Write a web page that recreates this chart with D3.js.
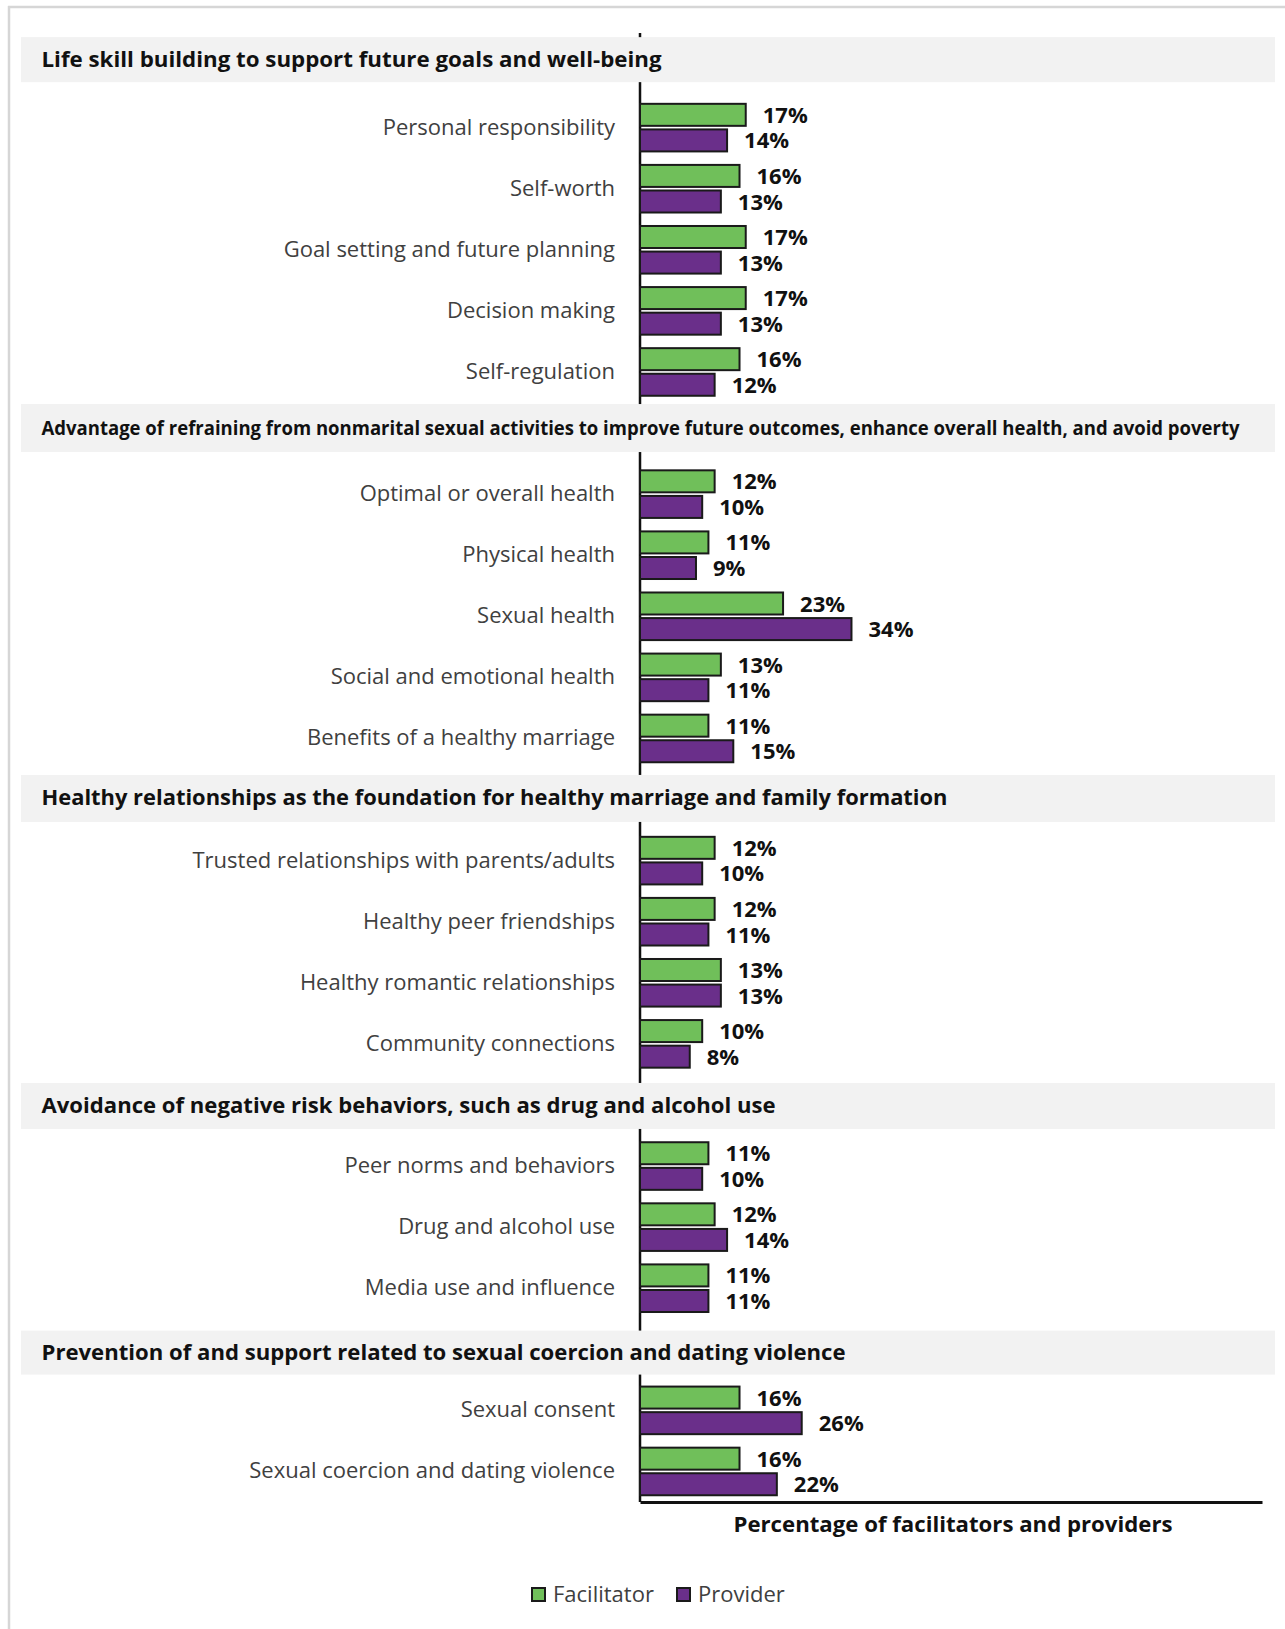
<!DOCTYPE html>
<html><head><meta charset="utf-8">
<script src="https://cdn.jsdelivr.net/npm/d3@7"></script>
<style>body{margin:0;background:#fff}svg{display:block}</style>
</head><body>
<svg id="c" width="1285" height="1629"></svg>
<script>
// ---------- DATA ----------
const sections = [
  "Life skill building to support future goals and well-being",
  "Advantage of refraining from nonmarital sexual activities to improve future outcomes, enhance overall health, and avoid poverty",
  "Healthy relationships as the foundation for healthy marriage and family formation",
  "Avoidance of negative risk behaviors, such as drug and alcohol use",
  "Prevention of and support related to sexual coercion and dating violence"
];
const categories = [
  "Personal responsibility","Self-worth","Goal setting and future planning","Decision making","Self-regulation",
  "Optimal or overall health","Physical health","Sexual health","Social and emotional health","Benefits of a healthy marriage",
  "Trusted relationships with parents/adults","Healthy peer friendships","Healthy romantic relationships","Community connections",
  "Peer norms and behaviors","Drug and alcohol use","Media use and influence",
  "Sexual consent","Sexual coercion and dating violence"
];
const categorySection = [0,0,0,0,0, 1,1,1,1,1, 2,2,2,2, 3,3,3, 4,4];
const facilitator = [17,16,17,17,16, 12,11,23,13,11, 12,12,13,10, 11,12,11, 16,16];
const provider    = [14,13,13,13,12, 10,9,34,11,15, 10,11,13,8, 10,14,11, 26,22];
const seriesNames = ["Facilitator","Provider"];
const axisTitle = "Percentage of facilitators and providers";

// ---------- STYLE / LAYOUT ----------
const colors = {Facilitator:"#70bf5a", Provider:"#6a2f8a"};
const headerTextWidths = [620, 1198, 906, 734, 804];
const headerTopOffsets = [-29.4, -29, -24.6, -22, -18.7];
const headerHeights = [45, 48, 47, 46, 44];
const FONT = "'Open Sans', 'Noto Sans', sans-serif";

const svg = d3.select("#c");

// frame
svg.append("line").attr("x1",8).attr("x2",1285).attr("y1",7).attr("y2",7).attr("stroke","#d6d6d6").attr("stroke-width",2.5);
svg.append("line").attr("x1",9).attr("x2",9).attr("y1",6).attr("y2",1629).attr("stroke","#d6d6d6").attr("stroke-width",2.5);

// rows: header slot + categories per section
const rows = [];
sections.forEach((s,si)=>{
  rows.push("H"+si);
  categories.forEach((c,ci)=>{ if(categorySection[ci]===si) rows.push(c); });
});

const x = d3.scaleLinear().domain([0,100]).range([640,1262]);
const y = d3.scaleBand().domain(rows).range([36,1502]).padding(0);
const y1 = d3.scaleBand().domain(seriesNames).range([-23.8,23.8]).paddingInner(0.14);
const cy = k => y(k) + y.bandwidth()/2;

// vertical axis line (drawn beneath header bands)
svg.append("line").attr("x1",x(0)).attr("x2",x(0)).attr("y1",33).attr("y2",1502)
  .attr("stroke","#111").attr("stroke-width",2.5);

// category labels
svg.append("g").selectAll("text").data(categories).join("text")
  .attr("x",615).attr("y",d=>cy(d)+7).attr("text-anchor","end")
  .attr("font-family",FONT).attr("font-size",22).attr("fill","#404040")
  .text(d=>d);

// bars
const data = categories.map((c,i)=>({cat:c, values:[{s:"Facilitator",v:facilitator[i]},{s:"Provider",v:provider[i]}]}));
const g = svg.append("g").selectAll("g").data(data).join("g")
  .attr("transform",d=>`translate(0,${cy(d.cat)})`);
g.selectAll("rect").data(d=>d.values).join("rect")
  .attr("x",x(0)).attr("y",d=>y1(d.s)).attr("height",y1.bandwidth())
  .attr("width",d=>x(d.v)-x(0)).attr("fill",d=>colors[d.s])
  .attr("stroke","#1a1a1a").attr("stroke-width",2);
g.selectAll("text").data(d=>d.values).join("text")
  .attr("x",d=>x(d.v)+17).attr("y",d=>y1(d.s)+y1.bandwidth()/2+8)
  .attr("font-family",FONT).attr("font-weight",700).attr("font-size",22).attr("fill","#111")
  .text(d=>d.v+"%");

// x axis
const xAxis = d3.axisBottom(x).tickValues([]).tickSizeOuter(0);
const ax = svg.append("g").attr("transform",`translate(0,1502)`).call(xAxis);
ax.select(".domain").attr("stroke","#111").attr("stroke-width",3);
svg.append("text").attr("x",(x.range()[0]+x.range()[1])/2+2).attr("y",1532).attr("text-anchor","middle")
  .attr("font-family",FONT).attr("font-weight",700).attr("font-size",21).attr("fill","#111")
  .attr("textLength",439).attr("lengthAdjust","spacingAndGlyphs")
  .text(axisTitle);

// section header bands
const hg = svg.append("g").selectAll("g").data(sections).join("g");
hg.append("rect").attr("x",21).attr("width",1254)
  .attr("y",(d,i)=>cy("H"+i)+headerTopOffsets[i]).attr("height",(d,i)=>headerHeights[i]).attr("fill","#f2f2f2");
hg.append("text").attr("x",41.5).attr("y",(d,i)=>cy("H"+i)+headerTopOffsets[i]+headerHeights[i]/2+7)
  .attr("font-family",FONT).attr("font-weight",700).attr("font-size",(d,i)=>i===1?19:21).attr("fill","#111")
  .attr("textLength",(d,i)=>headerTextWidths[i]).attr("lengthAdjust","spacingAndGlyphs")
  .text(d=>d);

// legend
const lg = svg.append("g").selectAll("g").data(seriesNames).join("g")
  .attr("transform",(d,i)=>`translate(${i===0?531:676},1587)`);
lg.append("rect").attr("x",1).attr("y",1).attr("width",13).attr("height",13)
  .attr("fill",d=>colors[d]).attr("stroke","#1a1a1a").attr("stroke-width",2);
lg.append("text").attr("x",22).attr("y",15)
  .attr("font-family",FONT).attr("font-size",22).attr("fill","#404040").text(d=>d);
</script>
</body></html>
